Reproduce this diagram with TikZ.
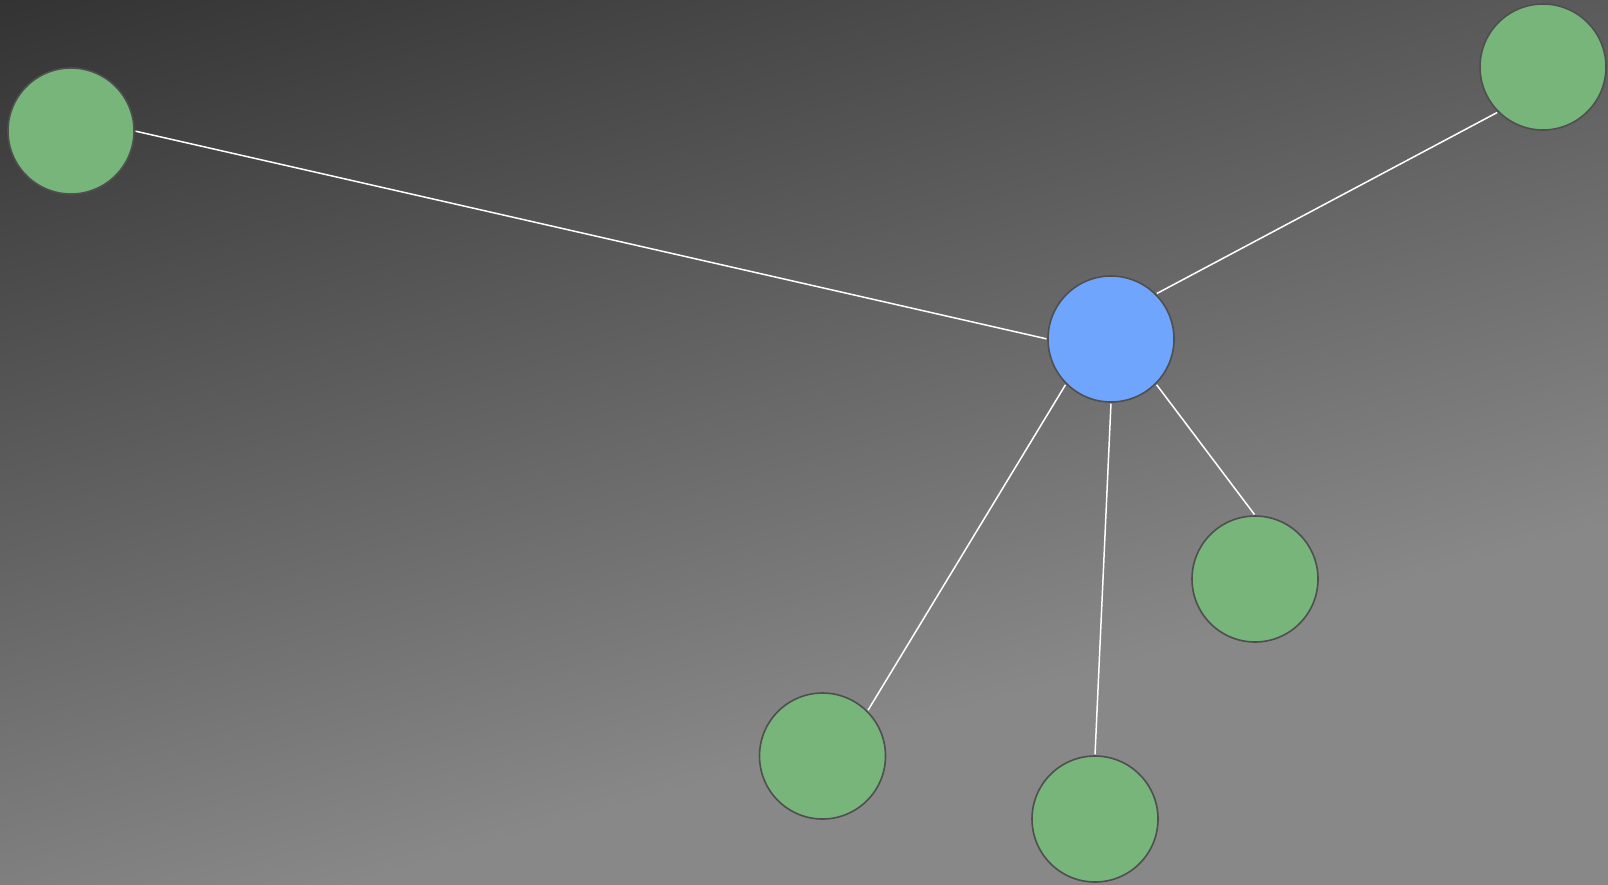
\documentclass[tikz,border=0pt]{standalone}
\definecolor{bgdark}{HTML}{333333}
\definecolor{bglight}{HTML}{888888}
\definecolor{leafgreen}{HTML}{78B57A}
\definecolor{hubblue}{HTML}{6FA5FD}
\definecolor{rimgray}{HTML}{4F4F4F}
\tikzset{
  vertex/.style={circle, draw=rimgray, line width=1.6pt, inner sep=0pt, minimum size=126pt},
  leaf/.style={vertex, fill=leafgreen},
  hub/.style={vertex, fill=hubblue},
  link/.style={draw=white, line width=1.5pt, shorten <=0.8pt, shorten >=0.8pt}
}
\begin{document}
\begin{tikzpicture}[x=1pt, y=-1pt]
\useasboundingbox (0,0) rectangle (1608,884);
% diagonal grey gradient backdrop
\begin{scope}
  \clip (0,0) rectangle (1608,884);
  \begin{scope}[transform canvas={rotate=16}, x=1pt, y=1pt]
    \shade[top color=bgdark, bottom color=bglight] (-2500,-949) rectangle (2500,0);
    \fill[bglight] (-2500,-3000) rectangle (2500,-948);
  \end{scope}
\end{scope}
% nodes
\node[hub]  (c)  at (1111,339) {};
\node[leaf] (l1) at (71,131) {};
\node[leaf] (l2) at (1543,67) {};
\node[leaf] (l3) at (1255,579) {};
\node[leaf] (l4) at (822.5,756) {};
\node[leaf] (l5) at (1095,819) {};
% connectors
\draw[link] (l1.east) -- (c.west);
\draw[link] (l2.south west) -- (c.north east);
\draw[link] (c.south east) -- (l3.north);
\draw[link] (c.south west) -- (l4.north east);
\draw[link] (c.south) -- (l5.north);
\end{tikzpicture}
\end{document}
